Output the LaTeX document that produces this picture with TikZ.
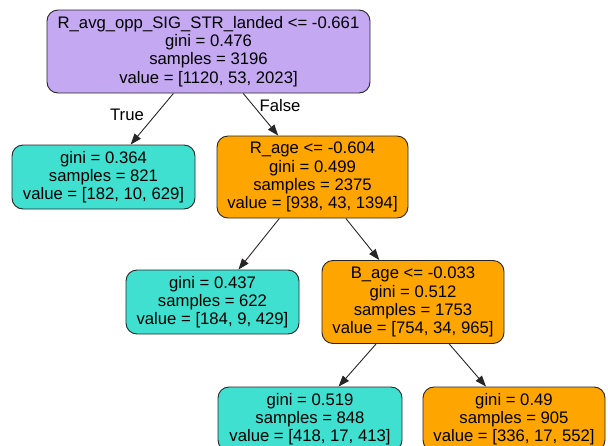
\documentclass[tikz,border=0pt]{standalone}
\usepackage{fontspec}
\setmainfont{Liberation Sans}
\usepackage{xcolor}
\usetikzlibrary{arrows.meta}

\definecolor{splitpurple}{HTML}{C5A8F2}
\definecolor{leafcyan}{HTML}{40E0D0}
\definecolor{leaforange}{HTML}{FFA500}

\begin{document}
\begin{tikzpicture}[x=1pt, y=-1pt,
        treenode/.style={draw=black!85, line width=0.9pt, rounded corners=11pt, align=center,
            inner sep=0pt, font=\fontsize{16.7}{18.2}\selectfont},
        edgelabel/.style={font=\fontsize{16.7}{18}\selectfont},
        treeedge/.style={draw=black!85, line width=0.9pt, -{Triangle[length=11pt, width=8pt]}}]
        % Overall box
        \useasboundingbox (0,0) rectangle (608,445);
        
        % Root split
        \node[treenode, fill=splitpurple, minimum width=323pt, minimum height=83pt] (root) at (208.5,51.5)
            {R\_avg\_opp\_SIG\_STR\_landed <= -0.661\\gini = 0.476\\samples = 3196\\value = [1120, 53, 2023]};
        
        % Second level
        \node[treenode, fill=leafcyan, minimum width=183pt, minimum height=64pt] (leafA) at (103.5,177)
            {gini = 0.364\\samples = 821\\value = [182, 10, 629]};
        
        \node[treenode, fill=leaforange, minimum width=191pt, minimum height=82pt] (ragesplit) at (312.5,177)
            {R\_age <= -0.604\\gini = 0.499\\samples = 2375\\value = [938, 43, 1394]};
        
        % Third level
        \node[treenode, fill=leafcyan, minimum width=173pt, minimum height=64pt] (leafB) at (212.5,302)
            {gini = 0.437\\samples = 622\\value = [184, 9, 429]};
        
        \node[treenode, fill=leaforange, minimum width=182pt, minimum height=83pt] (bagesplit) at (413,302)
            {B\_age <= -0.033\\gini = 0.512\\samples = 1753\\value = [754, 34, 965]};
        
        % Fourth level
        \node[treenode, fill=leafcyan, minimum width=184pt, minimum height=64pt] (leafC) at (310,419)
            {gini = 0.519\\samples = 848\\value = [418, 17, 413]};
        
        \node[treenode, fill=leaforange, minimum width=182pt, minimum height=64pt] (leafD) at (514,419)
            {gini = 0.49\\samples = 905\\value = [336, 17, 552]};
        
        % Connections
        \draw[treeedge] (root) -- (leafA);
        \draw[treeedge] (root) -- (ragesplit);
        \draw[treeedge] (ragesplit) -- (leafB);
        \draw[treeedge] (ragesplit) -- (bagesplit);
        \draw[treeedge] (bagesplit) -- (leafC);
        \draw[treeedge] (bagesplit) -- (leafD);
        
        % Edge labels
        \node[edgelabel] (truelabel) at (127,115) {True};
        \node[edgelabel] (falselabel) at (280,106) {False};
    \end{tikzpicture}
\end{document}
